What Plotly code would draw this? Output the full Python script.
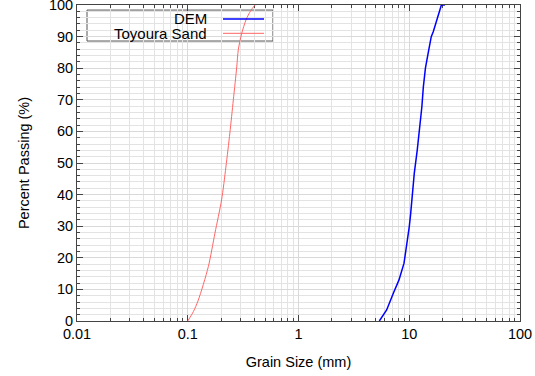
import plotly.graph_objects as go

# ---- data ----
sand_size = [0.100, 0.1125, 0.1245, 0.1534, 0.176, 0.202, 0.221, 0.240, 0.258, 0.277, 0.286, 0.307, 0.336, 0.370, 0.405]
sand_pass = [0.0, 3.0, 6.6, 17.2, 27.8, 38.3, 48.7, 59.5, 70.0, 80.4, 85.8, 91.0, 95.3, 98.2, 100.0]

dem_size = [5.37, 6.25, 7.18, 8.08, 8.97, 9.48, 10.0, 10.3, 10.7, 11.1, 11.8, 12.3, 13.0, 13.4, 14.0, 14.8, 15.8, 16.5, 17.7, 19.1, 19.5, 21.0]
dem_pass = [0.0, 3.5, 8.8, 13.0, 18.3, 23.5, 29.8, 34.0, 40.4, 46.7, 54.0, 59.4, 67.8, 74.0, 80.0, 84.7, 90.0, 91.6, 95.3, 99.7, 100.0, 100.0]

x_tickvals = [0.01, 0.1, 1, 10, 100]
x_ticktext = ["0.01", "0.1", "1", "10", "100"]
y_tickvals = list(range(0, 101, 10))

legend_names = ["DEM", "Toyoura Sand"]
colors = ["#0000ff", "#ff6666"]
widths = [1.5, 1.0]

FONT = "Liberation Sans, Arial, sans-serif"

fig = go.Figure()
fig.add_trace(go.Scatter(x=dem_size, y=dem_pass, mode="lines", name=legend_names[0],
                         line=dict(color=colors[0], width=widths[0]), showlegend=False))
fig.add_trace(go.Scatter(x=sand_size, y=sand_pass, mode="lines", name=legend_names[1],
                         line=dict(color=colors[1], width=widths[1], shape="spline", smoothing=0.8),
                         showlegend=False))

axis_common = dict(showline=True, linecolor="#444444", linewidth=1, mirror="ticks",
                   ticks="inside", tickcolor="#444444", ticklen=6, automargin=False,
                   gridcolor="#d9d9d9", gridwidth=1, zeroline=False, layer="below traces",
                   ticklabeloverflow="allow",
                   tickfont=dict(size=14.5, color="black", family=FONT))

fig.update_xaxes(type="log", range=[-2, 2], tickvals=x_tickvals, ticktext=x_ticktext,
                 minor=dict(dtick="D1", showgrid=True, gridcolor="#e3e3e3", ticks="inside",
                            ticklen=3, tickcolor="#444444"),
                 title=dict(text="Grain Size (mm)", font=dict(size=14.5, color="black", family=FONT),
                            standoff=15),
                 **axis_common)
fig.update_yaxes(range=[0, 100], tickvals=y_tickvals,
                 minor=dict(dtick=2, showgrid=True, gridcolor="#e3e3e3", ticks="inside",
                            ticklen=3, tickcolor="#444444"),
                 title=dict(text="Percent Passing (%)", font=dict(size=14.5, color="black", family=FONT),
                            standoff=15),
                 **axis_common)

# custom legend (text on the left, line sample on the right, like gnuplot)
fig.add_shape(type="rect", xref="paper", yref="paper", x0=0.0226, x1=0.4424, y0=0.886, y1=0.984,
              line=dict(color="#555555", width=1), fillcolor="white", layer="between")
leg_y = [0.9557, 0.9104]
for name, c, w, yy in zip(legend_names, colors, widths, leg_y):
    fig.add_annotation(xref="paper", yref="paper", x=0.298, y=yy, text=name, showarrow=False,
                       xanchor="right", yanchor="middle",
                       font=dict(size=15, color="black", family=FONT))
    fig.add_shape(type="line", xref="paper", yref="paper", x0=0.3296, x1=0.4221, y0=yy, y1=yy,
                  line=dict(color=c, width=w), layer="above")

fig.update_layout(width=535, height=376, margin=dict(l=77, r=15, t=5, b=55, autoexpand=False),
                  plot_bgcolor="white", paper_bgcolor="white",
                  font=dict(family=FONT, color="black"))

fig.write_html("out.html", config={"displayModeBar": False},
               post_script="document.body.style.margin='0';document.body.style.overflow='hidden';")
